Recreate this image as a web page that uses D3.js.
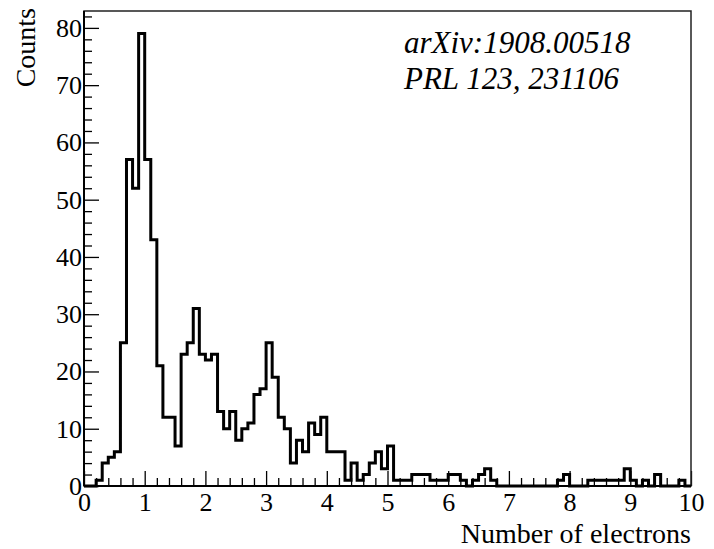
<!DOCTYPE html>
<html>
<head>
<meta charset="utf-8">
<script src="https://cdn.jsdelivr.net/npm/d3@7/dist/d3.min.js"></script>
<style>
  body { margin: 0; background: #fff; }
  text { font-family: "Liberation Serif", "Times New Roman", serif; fill: #000; }
</style>
</head>
<body>
<div id="chart"></div>
<script>
// histogram of electron counts, 100 bins of 0.1 from 0 to 10
var xRange = [0, 10];
var binWidth = 0.1;
var counts = [
  0, 0, 1, 4, 5, 6, 25, 57, 52, 79,
  57, 43, 21, 12, 12, 7, 23, 25, 31, 23,
  22, 23, 13, 10, 13, 8, 10, 11, 16, 17,
  25, 19, 12, 10, 4, 8, 6, 11, 9, 12,
  6, 6, 6, 1, 4, 1, 2, 4, 6, 3,
  7, 1, 1, 1, 2, 2, 2, 1, 1, 1,
  2, 2, 1, 0, 1, 2, 3, 1, 0, 0,
  0, 0, 0, 0, 0, 0, 0, 0, 1, 2,
  0, 0, 0, 1, 1, 1, 1, 1, 1, 3,
  1, 0, 1, 0, 2, 0, 0, 0, 1, 0
];
var xTicks = [0, 1, 2, 3, 4, 5, 6, 7, 8, 9, 10];
var yTicks = [0, 10, 20, 30, 40, 50, 60, 70, 80];
var xTitle = "Number of electrons";
var yTitle = "Counts";
var notes = ["arXiv:1908.00518", "PRL 123, 231106"];

var width = 714, height = 549;
var margin = {top: 11, right: 23, bottom: 63, left: 84};
var plotW = width - margin.left - margin.right,
    plotH = height - margin.top - margin.bottom;

var svg = d3.select("#chart").append("svg")
  .attr("width", width)
  .attr("height", height);

var g = svg.append("g")
  .attr("transform", "translate(" + margin.left + "," + margin.top + ")");

// ROOT puts the top at 1.05 * max
var yMax = d3.max(counts) * 1.05;

var x = d3.scaleLinear().domain(xRange).range([0, plotW]);
var y = d3.scaleLinear().domain([0, yMax]).range([plotH, 0]);

// minor ticks every 0.2 on x, every 2 on y
var xMinor = d3.range(0, 50).map(function(i) { return i * 0.2; }).filter(function(v) { return Math.abs(v - Math.round(v)) > 1e-6; });
var yMinor = d3.range(0, 42).map(function(i) { return i * 2; }).filter(function(v) { return v % 10 !== 0 && v < yMax; });

g.append("g")
  .attr("class", "x minor")
  .attr("transform", "translate(0," + plotH + ")")
  .call(d3.axisBottom(x).tickValues(xMinor).tickSize(-8).tickFormat(""));

g.append("g")
  .attr("class", "x major")
  .attr("transform", "translate(0," + plotH + ")")
  .call(d3.axisBottom(x).tickValues(xTicks).tickSize(-15).tickPadding(7).tickFormat(d3.format("d")));

g.append("g")
  .attr("class", "y minor")
  .call(d3.axisLeft(y).tickValues(yMinor).tickSize(-8).tickFormat(""));

g.append("g")
  .attr("class", "y major")
  .call(d3.axisLeft(y).tickValues(yTicks).tickSize(-15).tickPadding(2).tickFormat(d3.format("d")));

g.selectAll(".domain").remove();
g.selectAll(".tick line").attr("stroke", "#000").attr("stroke-width", 1.3);
g.selectAll(".tick text").style("font-size", "26px").attr("fill", "#000");

// frame
g.append("rect")
  .attr("x", 0).attr("y", 0)
  .attr("width", plotW).attr("height", plotH)
  .attr("fill", "none")
  .attr("stroke", "#222")
  .attr("stroke-width", 1.5);

g.append("line")
  .attr("x1", 0).attr("x2", plotW)
  .attr("y1", plotH).attr("y2", plotH)
  .attr("stroke", "#000").attr("stroke-width", 2);
g.append("line")
  .attr("x1", 0).attr("x2", 0)
  .attr("y1", 0).attr("y2", plotH)
  .attr("stroke", "#000").attr("stroke-width", 2);

// step outline of the histogram
var steps = counts.map(function(c, i) { return [xRange[0] + i * binWidth, c]; });
steps.push([xRange[1], counts[counts.length - 1]]);

var line = d3.line()
  .x(function(d) { return x(d[0]); })
  .y(function(d) { return y(d[1]); })
  .curve(d3.curveStepAfter);

g.append("path")
  .datum(steps)
  .attr("d", line)
  .attr("fill", "none")
  .attr("stroke", "#000")
  .attr("stroke-width", 3);

// axis titles
svg.append("text")
  .attr("x", margin.left + plotW)
  .attr("y", 543)
  .attr("text-anchor", "end")
  .style("font-size", "28px")
  .text(xTitle);

svg.append("text")
  .attr("transform", "translate(35,8) rotate(-90)")
  .attr("text-anchor", "end")
  .style("font-size", "28px")
  .text(yTitle);

// reference text
svg.selectAll(".note")
  .data(notes)
  .enter().append("text")
  .attr("class", "note")
  .attr("x", 404)
  .attr("y", function(d, i) { return 53 + i * 36; })
  .style("font-size", "31px")
  .style("font-style", "italic")
  .text(function(d) { return d; });
</script>
</body>
</html>
